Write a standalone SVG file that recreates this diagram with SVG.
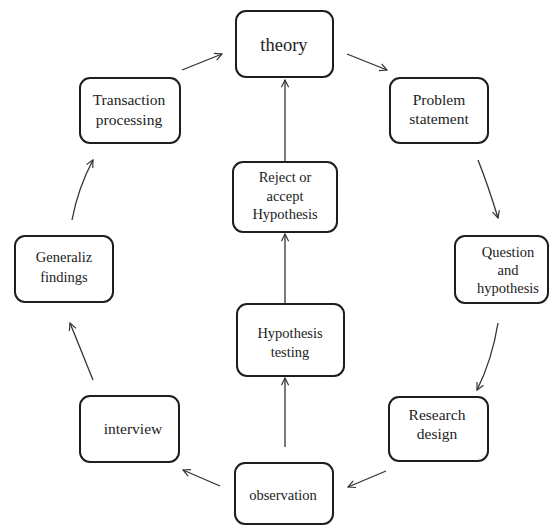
<svg xmlns="http://www.w3.org/2000/svg" width="550" height="527" viewBox="0 0 550 527">
<defs>
<marker id="arr" viewBox="0 0 10 10" refX="9" refY="5" markerWidth="9" markerHeight="9" markerUnits="userSpaceOnUse" orient="auto">
<path d="M1,1 L9,5 L1,9" fill="none" stroke="#333" stroke-width="1.3"/>
</marker>
<style>
.box{fill:#fff;stroke:#1e1e1e;stroke-width:2}
.t{font-family:"Liberation Serif","Times New Roman",serif;font-size:14.5px;fill:#222;text-anchor:middle}
.l{font-size:15.5px}
.c{fill:none;stroke:#333;stroke-width:1.3;marker-end:url(#arr)}
</style>
</defs>
<rect width="550" height="527" fill="#fff"/>
<g id="connectors">
<path class="c" d="M182,70 L222,54"/>
<path class="c" d="M347,54 L387,70"/>
<path class="c" d="M478,160 Q488,185 498,218"/>
<path class="c" d="M498,323 Q492,360 477,390"/>
<path class="c" d="M386,471 L348,487"/>
<path class="c" d="M220,486 L183,470"/>
<path class="c" d="M93,380 L70,323"/>
<path class="c" d="M72,220 Q78,188 93,160"/>
<path class="c" d="M285,447 L285,378"/>
<path class="c" d="M285,304 L285,234"/>
<path class="c" d="M285,162 L285,80"/>
</g>
<g id="theory">
<rect class="box" x="236" y="11" width="97" height="66" rx="10"/>
<text class="t" x="284" y="51" style="font-size:18.5px">theory</text>
</g>
<g id="problem">
<rect class="box" x="390" y="78" width="98" height="65" rx="10"/>
<text class="t l" x="439" y="105">Problem</text>
<text class="t l" x="439" y="124">statement</text>
</g>
<g id="transaction">
<rect class="box" x="80" y="78" width="100" height="65" rx="10"/>
<text class="t l" x="129" y="105">Transaction</text>
<text class="t l" x="129" y="125">processing</text>
</g>
<g id="reject">
<rect class="box" x="233" y="162" width="104" height="70" rx="10"/>
<text class="t" x="285" y="182">Reject or</text>
<text class="t" x="285" y="201">accept</text>
<text class="t" x="285" y="219">Hypothesis</text>
</g>
<g id="generaliz">
<rect class="box" x="15" y="236" width="98" height="66" rx="10"/>
<text class="t" x="64" y="262">Generaliz</text>
<text class="t" x="64" y="282">findings</text>
</g>
<g id="question">
<rect class="box" x="455" y="236" width="93" height="67" rx="10"/>
<text class="t" x="508" y="257">Question</text>
<text class="t" x="508" y="275">and</text>
<text class="t" x="508" y="293">hypothesis</text>
</g>
<g id="testing">
<rect class="box" x="237" y="304" width="107" height="72" rx="10"/>
<text class="t" x="290" y="338">Hypothesis</text>
<text class="t" x="290" y="357">testing</text>
</g>
<g id="interview">
<rect class="box" x="80" y="396" width="99" height="66" rx="10"/>
<text class="t l" x="133" y="434">interview</text>
</g>
<g id="research">
<rect class="box" x="389" y="397" width="99" height="64" rx="10"/>
<text class="t l" x="437" y="420">Research</text>
<text class="t l" x="437" y="439">design</text>
</g>
<g id="observation">
<rect class="box" x="235" y="463" width="98" height="61" rx="10"/>
<text class="t" x="283" y="500">observation</text>
</g>
</svg>
